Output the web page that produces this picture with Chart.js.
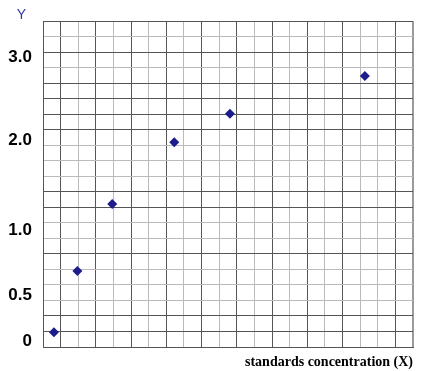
<!DOCTYPE html>
<html>
<head>
<meta charset="utf-8">
<script src="https://cdn.jsdelivr.net/npm/chart.js@4"></script>
<style>
  html, body { margin: 0; padding: 0; background: #fff; }
  #chart-box { width: 423px; height: 371px; }
</style>
</head>
<body>
<div id="chart-box"><canvas id="my-chart"></canvas></div>
<script>
'use strict';

// ************* Data (grid units, 21 x 21 squares) **************
let xValues = [0.62, 1.95, 3.93, 7.45, 10.61, 18.27];
let yValues = [0.95, 4.9, 9.21, 13.19, 15.03, 17.46];

let yTickPositions = [0.35, 3.35, 7.54, 13.3, 18.7];
let yTickLabels = ['0', '0.5', '1.0', '2.0', '3.0'];

let gridCount = 21;
// which grid lines are drawn darker
let darkRows = [0, 1, 2, 6, 9, 10, 14, 15, 16, 17, 19, 21];
let darkCols = [0, 1, 3, 5, 7, 9, 11, 13, 15, 17, 20];

// ************** Helpers *************
function gridTicks(){
  let ticks = [];
  for(let i = 0; i <= gridCount; i++){
    ticks.push({value: i});
  }
  return ticks;
}

function isGridValue(v){
  return Number.isInteger(v);
}

// draws the little blue "Y" over the value labels
let yLetterPlugin = {
  id: 'yLetter',
  afterDraw(chart){
    let ctx = chart.ctx;
    ctx.save();
    ctx.font = '14px "Liberation Sans", Arial, sans-serif';
    ctx.fillStyle = '#34349c';
    ctx.textAlign = 'center';
    ctx.textBaseline = 'middle';
    ctx.fillText('Y', 21.5, 15);
    ctx.restore();
  }
};

// ***************** Chart *********************
let canvasElem = document.getElementById('my-chart');

let points = [];
for(let i = 0; i < xValues.length; i++){
  points.push({x: xValues[i], y: yValues[i]});
}

let myObj = {
  type: 'scatter',
  data: {
    datasets: [{
      data: points,
      pointStyle: 'rectRot',
      pointRadius: 5,
      backgroundColor: '#1c1c8a',
      borderColor: '#1c1c8a',
      borderWidth: 0
    }]
  },
  options: {
    responsive: true,
    maintainAspectRatio: false,
    animation: false,
    layout: {
      padding: {top: 21, right: 10, left: 0, bottom: 0}
    },
    plugins: {
      legend: {display: false},
      tooltip: {enabled: false}
    },
    scales: {
      x: {
        type: 'linear',
        min: 0,
        max: gridCount,
        afterBuildTicks: function(scale){
          scale.ticks = gridTicks();
        },
        afterFit: function(scale){
          scale.height = 24;
        },
        ticks: {display: false},
        grid: {
          drawTicks: false,
          color: function(ctx){
            let v = ctx.tick.value;
            if (v === gridCount) return '#9a9a9a';
            return darkCols.includes(v) ? '#555555' : '#bbbbbb';
          },
          lineWidth: function(ctx){
            return ctx.tick.value === gridCount ? 2 : 1;
          }
        },
        border: {display: true, color: '#555555', width: 1},
        title: {
          display: true,
          text: 'standards concentration (X)',
          align: 'end',
          color: '#000',
          font: {family: '"Liberation Serif", "Times New Roman", serif', size: 14, weight: 'bold'},
          padding: {top: 4, bottom: 0}
        }
      },
      y: {
        type: 'linear',
        min: 0,
        max: gridCount,
        afterBuildTicks: function(scale){
          let ticks = gridTicks();
          for(let i = 0; i < yTickPositions.length; i++){
            ticks.push({value: yTickPositions[i]});
          }
          ticks.sort(function(a, b){ return a.value - b.value; });
          scale.ticks = ticks;
        },
        afterFit: function(scale){
          scale.width = 43;
        },
        ticks: {
          autoSkip: false,
          padding: 11,
          color: '#000',
          font: {family: '"Liberation Sans", Arial, sans-serif', size: 17, weight: 'bold'},
          callback: function(value){
            let idx = yTickPositions.indexOf(value);
            return idx >= 0 ? yTickLabels[idx] : '';
          }
        },
        grid: {
          drawTicks: false,
          color: function(ctx){
            let v = ctx.tick.value;
            if (!isGridValue(v)) return 'rgba(0,0,0,0)';
            return darkRows.includes(v) ? '#555555' : '#bbbbbb';
          }
        },
        border: {display: true, color: '#555555', width: 1}
      }
    }
  },
  plugins: [yLetterPlugin]
};

new Chart(canvasElem, myObj);
</script>
</body>
</html>
